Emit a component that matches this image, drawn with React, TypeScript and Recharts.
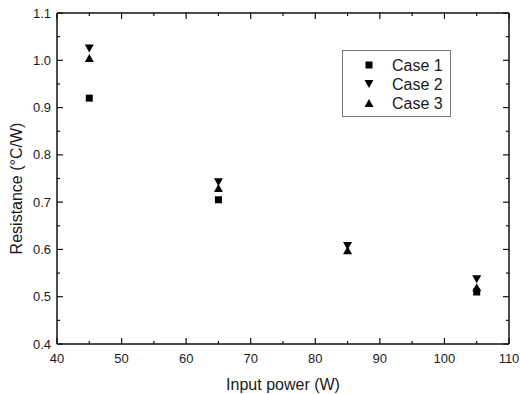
import React from 'react'
import {
  ScatterChart,
  Scatter,
  XAxis,
  YAxis,
  Legend,
  ReferenceLine,
} from 'recharts'

// input power (W) for each measurement
const power = [45, 65, 85, 105]
// thermal resistance (°C/W); no Case 1 marker visible at 85 W
const case1: (number | null)[] = [0.92, 0.705, null, 0.51]
const case2 = [1.025, 0.742, 0.607, 0.537]
const case3 = [1.005, 0.73, 0.598, 0.52]

const seriesNames = ['Case 1', 'Case 2', 'Case 3']

const xTicks = [40, 45, 50, 55, 60, 65, 70, 75, 80, 85, 90, 95, 100, 105, 110]
const yTicks = [0.4, 0.45, 0.5, 0.55, 0.6, 0.65, 0.7, 0.75, 0.8, 0.85, 0.9, 0.95, 1.0, 1.05, 1.1]

const FONT = '"Liberation Sans", Arial, sans-serif'
const INK = '#1a1a1a'
const FRAME = '#111'
const FRAME_W = 1.5

const W = 520
const H = 394
const MARGIN = { top: 13, right: 11, bottom: 0, left: 0 }
const Y_AXIS_W = 57
const X_AXIS_H = 50
// plot box size, used to mirror the inward ticks onto the top/right frame
const PLOT_W = W - MARGIN.left - MARGIN.right - Y_AXIS_W
const PLOT_H = H - MARGIN.top - MARGIN.bottom - X_AXIS_H

const toPoints = (ys: (number | null)[]) =>
  power
    .map((x, i) => ({ x, y: ys[i] }))
    .filter((p) => p.y != null)

const isMajor = (v: number, step: number) =>
  Math.abs(v / step - Math.round(v / step)) < 1e-6

// markers
const Square = ({ cx, cy }: any) => (
  <rect x={cx - 3.5} y={cy - 3.5} width={7} height={7} fill="#000" />
)
const TriDown = ({ cx, cy }: any) => (
  <polygon
    points={`${cx - 4.5},${cy - 4} ${cx + 4.5},${cy - 4} ${cx},${cy + 4}`}
    fill="#000"
  />
)
const TriUp = ({ cx, cy }: any) => (
  <polygon
    points={`${cx - 4.5},${cy + 4} ${cx + 4.5},${cy + 4} ${cx},${cy - 4}`}
    fill="#000"
  />
)
const markers = [Square, TriDown, TriUp]

// inward ticks on both sides; tickSize/tickMargin = 0 so x/y sit on the axis line
const BottomTick = ({ x, y, payload }: any) => {
  const len = isMajor(payload.value, 10) ? 6 : 3
  const top = y - PLOT_H
  return (
    <g>
      <line x1={x} x2={x} y1={y} y2={y - len} stroke={FRAME} strokeWidth={1.2} />
      <line x1={x} x2={x} y1={top} y2={top + len} stroke={FRAME} strokeWidth={1.2} />
      {len === 6 && (
        <text x={x} y={y + 19} textAnchor="middle" fontSize={13} fill={INK} fontFamily={FONT}>
          {payload.value}
        </text>
      )}
    </g>
  )
}
const LeftTick = ({ x, y, payload }: any) => {
  const len = isMajor(payload.value, 0.1) ? 6 : 3
  const right = x + PLOT_W
  return (
    <g>
      <line x1={x} x2={x + len} y1={y} y2={y} stroke={FRAME} strokeWidth={1.2} />
      <line x1={right} x2={right - len} y1={y} y2={y} stroke={FRAME} strokeWidth={1.2} />
      {len === 6 && (
        <text x={x - 6} y={y + 4.5} textAnchor="end" fontSize={13} fill={INK} fontFamily={FONT}>
          {payload.value.toFixed(1)}
        </text>
      )}
    </g>
  )
}

const LegendBox = () => (
  <svg width={110} height={68} style={{ display: 'block' }}>
    <rect x={0.5} y={0.5} width={108} height={66} fill="#fff" stroke="#777" />
    {seriesNames.map((name, i) => {
      const Marker = markers[i]
      const cy = 15 + i * 19
      return (
        <g key={name}>
          <Marker cx={27} cy={cy} />
          <text x={50} y={cy + 6} fontSize={16} fill={INK} fontFamily={FONT}>
            {name}
          </text>
        </g>
      )
    })}
  </svg>
)

export default function App() {
  const axisLine = { stroke: FRAME, strokeWidth: FRAME_W }
  return (
    <div style={{ position: 'absolute', left: 0, top: 0, background: '#fff' }}>
      <ScatterChart width={W} height={H} margin={MARGIN}>
        <XAxis
          type="number"
          dataKey="x"
          domain={[40, 110]}
          ticks={xTicks}
          interval={0}
          height={X_AXIS_H}
          tickSize={0}
          tickMargin={0}
          axisLine={axisLine}
          tick={<BottomTick />}
          label={{
            value: 'Input power (W)',
            position: 'insideBottom',
            offset: 4,
            style: { fontSize: 16, fill: INK, fontFamily: FONT },
          }}
        />
        <YAxis
          type="number"
          dataKey="y"
          domain={[0.4, 1.1]}
          ticks={yTicks}
          interval={0}
          width={Y_AXIS_W}
          tickSize={0}
          tickMargin={0}
          axisLine={axisLine}
          tick={<LeftTick />}
          label={{
            value: 'Resistance (°C/W)',
            angle: -90,
            position: 'insideLeft',
            offset: 16,
            dy: 10,
            style: { fontSize: 16, fill: INK, fontFamily: FONT, textAnchor: 'middle' },
          }}
        />
        {/* top and right frame lines */}
        <ReferenceLine y={1.1} stroke={FRAME} strokeWidth={FRAME_W} />
        <ReferenceLine x={110} stroke={FRAME} strokeWidth={FRAME_W} />
        <Legend
          layout="vertical"
          verticalAlign="middle"
          align="center"
          wrapperStyle={{ left: 342, top: 50, width: 110 }}
          content={() => <LegendBox />}
        />
        <Scatter name={seriesNames[0]} data={toPoints(case1)} shape={<Square />} isAnimationActive={false} />
        <Scatter name={seriesNames[1]} data={toPoints(case2)} shape={<TriDown />} isAnimationActive={false} />
        <Scatter name={seriesNames[2]} data={toPoints(case3)} shape={<TriUp />} isAnimationActive={false} />
      </ScatterChart>
    </div>
  )
}
